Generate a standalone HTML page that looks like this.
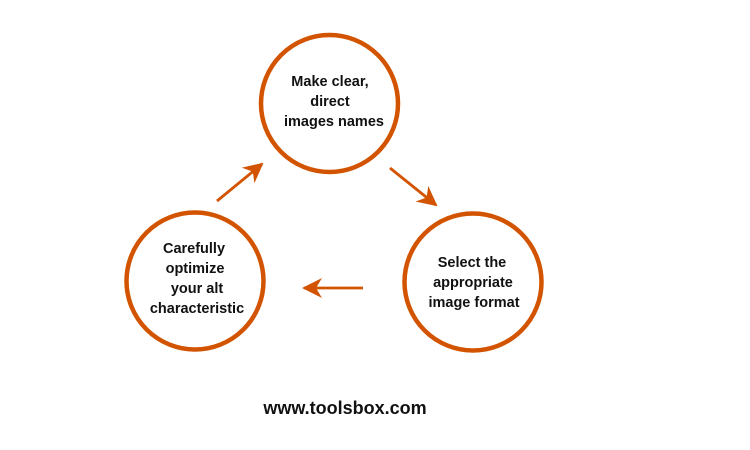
<!DOCTYPE html>
<html><head><style>
html,body{margin:0;padding:0;background:#fff;}
svg{display:block}
text{font-family:"Liberation Sans",sans-serif;font-weight:bold;fill:#111;text-anchor:middle;}
</style></head><body>
<svg width="750" height="450" viewBox="0 0 750 450">
<defs>
<marker id="h" viewBox="0 0 10 10" refX="9" refY="5" markerWidth="20" markerHeight="20" orient="auto" markerUnits="userSpaceOnUse"><path d="M0,0 L10,5 L0,10 L3,5 z" fill="#d35400"/></marker></defs>
<g fill="none" stroke="#d35400" stroke-width="4.5">
<circle cx="329.5" cy="103.5" r="68.5"/>
<circle cx="195" cy="281" r="68.5"/>
<circle cx="473" cy="282" r="68.5"/>
</g>
<g stroke="#d35400" stroke-width="2.8" fill="none">
<line x1="217" y1="201" x2="262" y2="164" marker-end="url(#h)"/>
<line x1="390" y1="168" x2="436" y2="205" marker-end="url(#h)"/>
<line x1="363" y1="288" x2="304" y2="288" marker-end="url(#h)"/>
</g>
<g font-size="14.5">
<text x="330" y="86">Make clear,</text>
<text x="330" y="106">direct</text>
<text x="334" y="126">images names</text>
<text x="194" y="253">Carefully</text>
<text x="195" y="273">optimize</text>
<text x="197" y="293">your alt</text>
<text x="197" y="313">characteristic</text>
<text x="472" y="267">Select the</text>
<text x="473" y="287">appropriate</text>
<text x="474" y="307">image format</text>
</g>
<text x="345" y="414" font-size="18">www.toolsbox.com</text>
</svg>
</body></html>
